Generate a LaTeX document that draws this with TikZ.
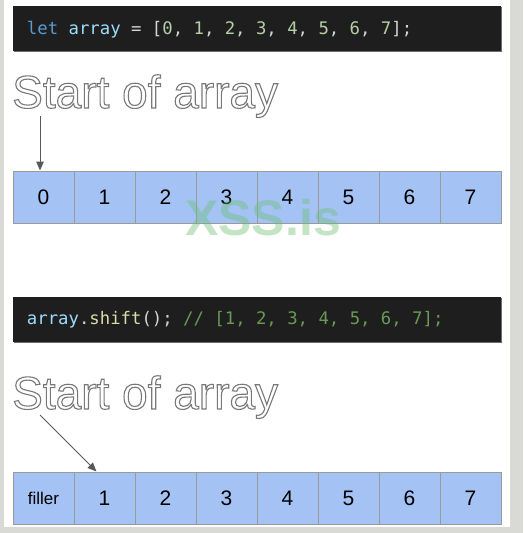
\documentclass[tikz,border=0pt]{standalone}
\usepackage{fontspec}
\usetikzlibrary{arrows.meta,shadows}
\setmainfont{Liberation Sans}
\setmonofont{DejaVu Sans Mono}

\definecolor{framegrey}{HTML}{D9D9D6}
\definecolor{codebg}{HTML}{1E1E1E}
\definecolor{codeshadow}{HTML}{6E6E6E}
\definecolor{kwblue}{HTML}{569CD6}
\definecolor{varblue}{HTML}{9CDCFE}
\definecolor{plaincode}{HTML}{D4D4D4}
\definecolor{numgreen}{HTML}{B5CEA8}
\definecolor{fnyellow}{HTML}{DCDCAA}
\definecolor{cmtgreen}{HTML}{6A9955}
\definecolor{cellblue}{HTML}{A4C2F4}
\definecolor{cellborder}{HTML}{9A9A9A}
\definecolor{arrowgrey}{HTML}{595959}
\definecolor{markgreen}{HTML}{6CC070}

% white glyphs with a grey stroke round them
\newcommand{\outlined}[1]{{\color{white}%
  \special{pdf:literal direct 2 Tr 1.1 w 0.47 0.47 0.47 RG}#1%
  \special{pdf:literal direct 0 Tr}}}

\begin{document}
\begin{tikzpicture}[x=1pt,y=-1pt,
    codebox/.style={fill=codebg, minimum width=488, minimum height=45, text width=460,
      inner xsep=14, inner ysep=0, align=left, text=plaincode, text height=13, text depth=2,
      font=\ttfamily\fontsize{17.3}{17.3}\selectfont,
      execute at begin node={\spaceskip=10.4pt\relax},
      drop shadow={shadow xshift=1.2pt, shadow yshift=-1.2pt, fill=codeshadow, opacity=1}},
    cell/.style={draw=cellborder, fill=cellblue, line width=1pt, minimum width=61,
      minimum height=52, inner sep=0, font=\fontsize{21}{21}\selectfont},
    startlabel/.style={anchor=base west, inner sep=0, font=\fontsize{46}{46}\selectfont},
    pointer/.style={draw=arrowgrey, line width=1pt, -{Triangle[length=9pt,width=7.5pt]}}]

    % Page and frame
    \useasboundingbox (0,0) rectangle (523,533);
    \fill[framegrey] (0,0) rectangle (523,533);
    \fill[white] (4,0) rectangle (510,527);

    % First code line
    \node[codebox] (code1) at (257,28.5)
      {{\color{kwblue}let} {\color{varblue}array} = [{\color{numgreen}0}, {\color{numgreen}1}, {\color{numgreen}2}, {\color{numgreen}3}, {\color{numgreen}4}, {\color{numgreen}5}, {\color{numgreen}6}, {\color{numgreen}7}];};

    % Label and pointer to the first cell
    \node[startlabel] (start1) at (12,108) {\outlined{Start of array}};
    \coordinate (tail1) at (40,116);

    % The array before shift
    \foreach \i in {0,...,7}
    \node[cell] (a\i) at (43.5+61*\i,197) {\i};

    \draw[pointer] (tail1) -- ([xshift=-3.5]a0.north);

    % Second code line
    \node[codebox] (code2) at (257,319)
      {{\color{varblue}array}.{\color{fnyellow}shift}(); {\color{cmtgreen}// [1, 2, 3, 4, 5, 6, 7];}};

    % Label and pointer after shift
    \node[startlabel] (start2) at (12,409) {\outlined{Start of array}};
    \coordinate (tail2) at (40,415);

    % The array after shift
    \node[cell, font=\fontsize{17}{17}\selectfont] (b0) at (43.5,498) {filler};
    \foreach \i in {1,...,7}
    \node[cell] (b\i) at (43.5+61*\i,498) {\i};

    \draw[pointer] (tail2) -- ([xshift=23]b1.north west);

    % Watermark
    \node[anchor=base west, inner sep=0, text=markgreen, text opacity=0.4,
      font=\bfseries\fontsize{50}{50}\selectfont] (mark) at (185,235) {XSS.is};

\end{tikzpicture}
\end{document}
